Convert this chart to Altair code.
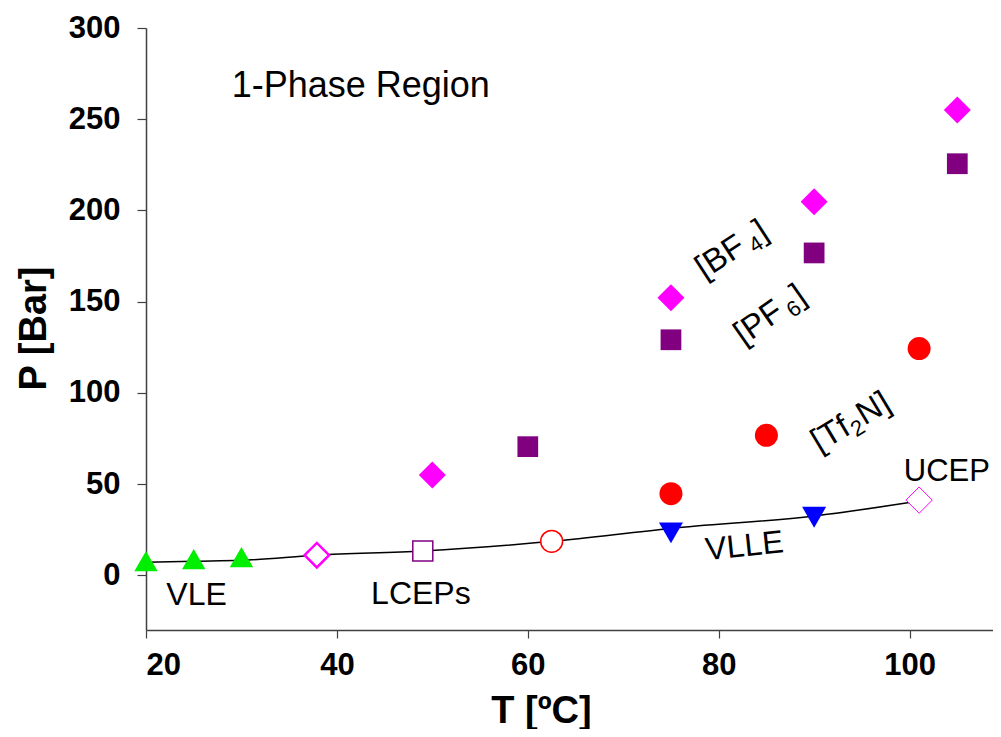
import altair as alt
import pandas as pd

# ---- data ----
vle_T = [20, 25, 30]
vle_P = [7.8, 8.8, 9.9]

lcep_bf4_T = [37.9]
lcep_bf4_P = [11.0]
lcep_pf6_T = [49.0]
lcep_pf6_P = [13.3]
lcep_tf2n_T = [62.5]
lcep_tf2n_P = [18.6]

vlle_T = [75, 90]
vlle_P = [23.2, 31.8]

ucep_T = [101.0]
ucep_P = [41.2]

bf4_T = [50, 75, 90, 105]
bf4_P = [54.9, 152.1, 204.8, 255.0]
pf6_T = [60, 75, 90, 105]
pf6_P = [70.5, 129.1, 176.7, 225.6]
tf2n_T = [75, 85, 101]
tf2n_P = [44.7, 76.7, 124.3]

curve_T = [20, 25, 30, 38, 49, 62.5, 75, 90, 101]
curve_P = [7.1, 7.7, 8.2, 11.0, 13.3, 18.6, 25.7, 32.5, 40.7]

label_text = ["1-Phase Region", "VLE", "LCEPs", "VLLE", "UCEP"]
label_T = [42.5, 25.3, 48.8, 82.7, 103.9]
label_P = [268.3, -10.8, -10.4, 15.9, 56.4]
label_angle = [0, 0, 0, 354, 0]
label_size = [36, 32, 32, 32, 31]

# ion labels: main part, subscript, tail; anchored at baseline junction
ion_main = ["[BF", "[PF", "[Tf"]
ion_sub = ["4", "6", "2"]
ion_tail = ["]", "]", "N]"]
ion_T = [83.0, 87.0, 94.0]
ion_P = [177.5, 142.0, 78.0]
ion_angle = [327, 325, 329]
ion_gap = [5, 5, 1]

x_ticks = [20, 40, 60, 80, 100]
y_ticks = [0, 50, 100, 150, 200, 250, 300]

FONT = "Liberation Sans"

xscale = alt.Scale(domain=[20, 108.74], nice=False, zero=False)
yscale = alt.Scale(domain=[-30, 300], nice=False, zero=False)

xaxis = alt.Axis(values=x_ticks, title="T [ºC]", grid=False, labelFontSize=31,
                 labelFont=FONT, labelFontWeight="bold", labelColor="black",
                 titleFont=FONT, titleFontSize=38, titleFontWeight="bold", titleColor="black",
                 tickSize=8, tickColor="#404040", domainColor="#404040", domainWidth=1.5,
                 tickWidth=1.2, labelPadding=12, titleX=395, titleY=92,
                 titleAlign="center", titleBaseline="alphabetic")
yaxis = alt.Axis(values=y_ticks, title="P [Bar]", grid=False, labelFontSize=31,
                 labelFont=FONT, labelFontWeight="bold", labelColor="black",
                 titleFont=FONT, titleFontSize=38, titleFontWeight="bold", titleColor="black",
                 tickSize=9, tickColor="#404040", domainColor="#404040", domainWidth=1.5,
                 tickWidth=1.2, labelPadding=17, titleX=-101, titleY=300,
                 titleAlign="center", titleBaseline="alphabetic", titleAngle=270)


def enc(ch):
    return ch.encode(
        x=alt.X("T:Q", scale=xscale, axis=xaxis),
        y=alt.Y("P:Q", scale=yscale, axis=yaxis),
    )


def df(T, P):
    return pd.DataFrame({"T": T, "P": P})


curve = enc(alt.Chart(df(curve_T, curve_P)).mark_line(
    interpolate="monotone", color="black", strokeWidth=1.5))


def filled(T, P, shape, color, size):
    return enc(alt.Chart(df(T, P)).mark_point(
        shape=shape, filled=True, color=color, size=size, opacity=1, strokeWidth=0))


def hollow(T, P, shape, color, size, sw):
    return enc(alt.Chart(df(T, P)).mark_point(
        shape=shape, filled=False, fill="white", fillOpacity=1, stroke=color,
        strokeWidth=sw, size=size, opacity=1))


layers = [
    curve,
    filled(vle_T, vle_P, "triangle-up", "#00ee00", 545),
    hollow(lcep_bf4_T, lcep_bf4_P, "diamond", "#ff00ff", 600, 2.5),
    hollow(lcep_pf6_T, lcep_pf6_P, "square", "#800080", 400, 1.5),
    hollow(lcep_tf2n_T, lcep_tf2n_P, "circle", "#ff0000", 480, 1.5),
    filled(vlle_T, vlle_P, "triangle-down", "#0000ff", 576),
    hollow(ucep_T, ucep_P, "diamond", "#ff00ff", 690, 1),
    filled(bf4_T, bf4_P, "diamond", "#ff00ff", 729),
    filled(pf6_T, pf6_P, "square", "#800080", 430),
    filled(tf2n_T, tf2n_P, "circle", "#ff0000", 530),
]


def text_layer(T, P, t, **kw):
    return enc(alt.Chart(pd.DataFrame({"T": [T], "P": [P], "t": [t]})).mark_text(
        font=FONT, color="black", **kw)).encode(text="t:N")


for t, T, P, a, s in zip(label_text, label_T, label_P, label_angle, label_size):
    layers.append(text_layer(T, P, t, fontSize=s, angle=a, align="center", baseline="middle"))

MAIN_SIZE = 33
SUB_SIZE = 22
SUB_W = SUB_SIZE * 0.556
for m, sb, tl, T, P, a, g in zip(ion_main, ion_sub, ion_tail, ion_T, ion_P, ion_angle, ion_gap):
    layers.append(text_layer(T, P, m, fontSize=MAIN_SIZE, angle=a, align="right",
                             baseline="alphabetic"))
    layers.append(text_layer(T, P, sb, fontSize=SUB_SIZE, angle=a, align="left",
                             baseline="alphabetic", dx=g, dy=6))
    layers.append(text_layer(T, P, tl, fontSize=MAIN_SIZE, angle=a, align="left",
                             baseline="alphabetic", dx=g + SUB_W + 1))

chart = alt.layer(*layers).properties(
    width=847, height=602,
    padding={"left": 138, "top": 20, "right": 0, "bottom": 99},
    autosize=alt.AutoSizeParams(type="none"),
    background="white",
).configure_view(stroke=None)

chart.save("out.html", embed_options={"renderer": "svg", "actions": False})
